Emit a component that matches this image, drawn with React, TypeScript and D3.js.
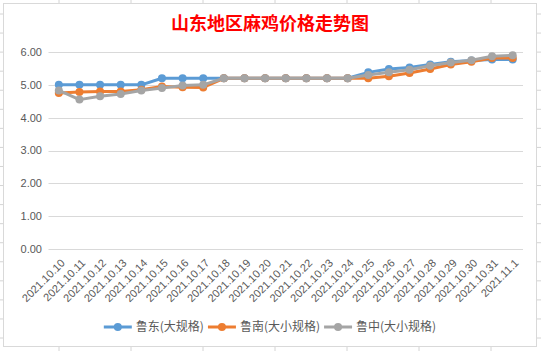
import React, { useEffect, useRef } from 'react';
import * as d3 from 'd3';

const dates = [
  '2021.10.10', '2021.10.11', '2021.10.12', '2021.10.13', '2021.10.14', '2021.10.15',
  '2021.10.16', '2021.10.17', '2021.10.18', '2021.10.19', '2021.10.20', '2021.10.21',
  '2021.10.22', '2021.10.23', '2021.10.24', '2021.10.25', '2021.10.26', '2021.10.27',
  '2021.10.28', '2021.10.29', '2021.10.30', '2021.10.31', '2021.11.1'
];
const ludong = [5.0, 5.0, 5.0, 5.0, 5.0, 5.2, 5.2, 5.2, 5.2, 5.2, 5.2, 5.2, 5.2, 5.2, 5.2, 5.38, 5.48, 5.53, 5.62, 5.7, 5.74, 5.77, 5.77];
const lunan = [4.75, 4.78, 4.8, 4.8, 4.85, 4.95, 4.93, 4.92, 5.2, 5.2, 5.2, 5.2, 5.2, 5.2, 5.2, 5.2, 5.26, 5.36, 5.48, 5.62, 5.7, 5.82, 5.82];
const luzhong = [4.83, 4.55, 4.65, 4.72, 4.83, 4.9, 4.98, 5.0, 5.2, 5.2, 5.2, 5.2, 5.2, 5.2, 5.2, 5.3, 5.38, 5.46, 5.58, 5.68, 5.75, 5.87, 5.9];
const seriesNames = ['鲁东(大规格)', '鲁南(大小规格)', '鲁中(大小规格)'];
const seriesColors = ['#5b9bd5', '#ed7d31', '#a5a5a5'];
const yTicks = [0, 1, 2, 3, 4, 5, 6];
const title = '山东地区麻鸡价格走势图';

const W = 541, H = 351;

export default function App() {
  const ref = useRef<SVGSVGElement>(null);

  useEffect(() => {
    const svg = d3.select(ref.current);
    svg.selectAll('*').remove();

    // spreadsheet cells behind the chart
    const bg = svg.append('g');
    d3.range(14, H, 19.06).forEach(y => {
      bg.append('line').attr('x1', 0).attr('x2', W).attr('y1', y).attr('y2', y)
        .attr('stroke', '#d4d4d4').attr('stroke-width', 1);
    });
    d3.range(59, W, 72).forEach(x => {
      bg.append('line').attr('x1', x).attr('x2', x).attr('y1', 0).attr('y2', H)
        .attr('stroke', '#d4d4d4').attr('stroke-width', 1);
    });

    // chart frame
    svg.append('rect')
      .attr('x', 3.5).attr('y', 3.5).attr('width', 533).attr('height', 343)
      .attr('fill', '#fff').attr('stroke', '#d9d9d9');

    svg.append('text')
      .attr('x', 270).attr('y', 30)
      .attr('text-anchor', 'middle')
      .attr('fill', '#ff0000')
      .style('font-family', '"Noto Sans CJK SC", sans-serif')
      .style('font-size', '18px')
      .style('font-weight', 'bold')
      .text(title);

    const margin = { left: 48.5, right: 18, top: 52, bottom: 102 };
    const x = d3.scaleBand().domain(dates).range([margin.left, W - margin.right]);
    const y = d3.scaleLinear().domain([0, 6]).range([H - margin.bottom, margin.top]);
    const cx = (d: string) => (x(d) as number) + x.bandwidth() / 2;

    // gridlines
    const grid = svg.append('g');
    yTicks.forEach(t => {
      grid.append('line')
        .attr('x1', margin.left).attr('x2', W - margin.right)
        .attr('y1', Math.round(y(t)) + 0.5).attr('y2', Math.round(y(t)) + 0.5)
        .attr('stroke', '#d9d9d9').attr('stroke-width', 1);
      grid.append('text')
        .attr('x', 42).attr('y', y(t)).attr('dy', '0.35em')
        .attr('text-anchor', 'end')
        .attr('fill', '#595959')
        .style('font-family', '"Liberation Sans", Arial, sans-serif')
        .style('font-size', '11px')
        .text(d3.format('.2f')(t));
    });

    // x labels
    const xl = svg.append('g');
    dates.forEach(d => {
      xl.append('text')
        .attr('transform', `translate(${cx(d) + 4},${y(0) + 12}) rotate(-45)`)
        .attr('dy', '0.35em')
        .attr('text-anchor', 'end')
        .attr('fill', '#595959')
        .style('font-family', '"Liberation Sans", Arial, sans-serif')
        .style('font-size', '11px')
        .text(d);
    });

    const allSeries = [ludong, lunan, luzhong];
    const line = d3.line<number>()
      .x((_, i) => cx(dates[i]))
      .y(v => y(v));

    allSeries.forEach((vals, si) => {
      const g = svg.append('g');
      g.append('path')
        .datum(vals)
        .attr('d', line)
        .attr('fill', 'none')
        .attr('stroke', seriesColors[si])
        .attr('stroke-width', 3)
        .attr('stroke-linejoin', 'round');
      g.selectAll('circle')
        .data(vals)
        .join('circle')
        .attr('cx', (_, i) => cx(dates[i]))
        .attr('cy', v => y(v))
        .attr('r', 4)
        .attr('fill', seriesColors[si]);
    });

    // legend
    const lg = svg.append('g');
    const ly = 327;
    let lx = 0;
    const items: any[] = [];
    seriesNames.forEach((name, i) => {
      const it = lg.append('g').attr('transform', `translate(${lx},0)`);
      it.append('line').attr('x1', 0).attr('x2', 28).attr('y1', ly).attr('y2', ly)
        .attr('stroke', seriesColors[i]).attr('stroke-width', 3);
      it.append('circle').attr('cx', 14).attr('cy', ly).attr('r', 4).attr('fill', seriesColors[i]);
      const t = it.append('text')
        .attr('x', 32).attr('y', ly).attr('dy', '0.35em')
        .attr('fill', '#595959')
        .style('font-family', '"Noto Sans CJK SC", sans-serif')
        .style('font-size', '12px')
        .text(name);
      const w = (t.node() as SVGTextElement).getComputedTextLength();
      items.push(it);
      lx += 32 + w + 4;
    });
    const total = lx - 4;
    lg.attr('transform', `translate(${270 - total / 2},0)`);
  }, []);

  return (
    <svg ref={ref} width={W} height={H} style={{ position: 'absolute', left: 0, top: 0, background: '#fff' }} />
  );
}
